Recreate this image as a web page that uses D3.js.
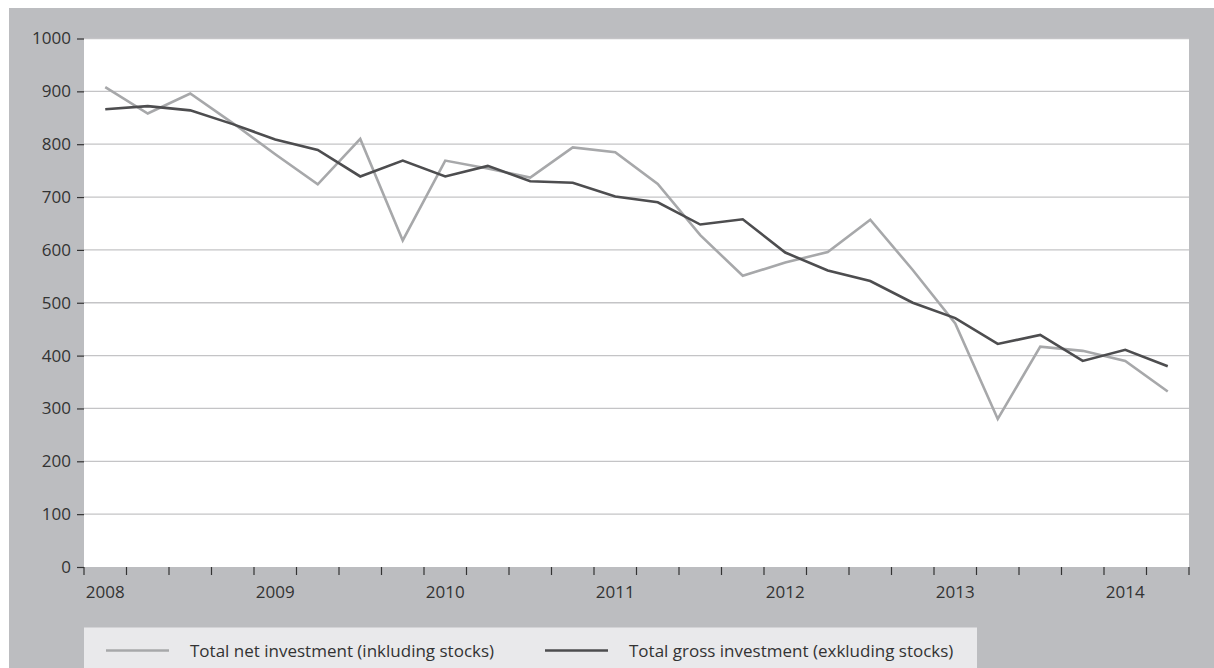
<!DOCTYPE html>
<html><head><meta charset="utf-8">
<script src="https://cdn.jsdelivr.net/npm/d3@7"></script>
<style>
html,body{margin:0;padding:0;background:#fff;}
svg{display:block;font-family:"Open Sans",sans-serif;}
</style></head>
<body>
<svg id="chart" width="1214" height="668"></svg>
<script>
const quarters = ["2008Q1","2008Q2","2008Q3","2008Q4","2009Q1","2009Q2","2009Q3","2009Q4","2010Q1","2010Q2","2010Q3","2010Q4","2011Q1","2011Q2","2011Q3","2011Q4","2012Q1","2012Q2","2012Q3","2012Q4","2013Q1","2013Q2","2013Q3","2013Q4","2014Q1","2014Q2"];
const netInvestment = [908,858,896,840,781,724,810,618,769,754,737,794,785,725,628,551,576,596,657,562,461,280,417,409,390,332];
const grossInvestment = [866,872,864,838,809,789,739,769,739,759,730,727,701,690,648,658,595,561,541,500,471,422,439,390,411,380];
const yTicks = [0,100,200,300,400,500,600,700,800,900,1000];
const seriesNames = ["Total net investment (inkluding stocks)","Total gross investment (exkluding stocks)"];
const seriesColors = ["#a7a8aa","#4d4d4f"];

const svg = d3.select("#chart");
const L = 84, R = 1189, T = 38.5, B = 567;

svg.append("rect").attr("x",9).attr("y",8).attr("width",1205).attr("height",660).attr("fill","#bcbdc0");
svg.append("rect").attr("x",L).attr("y",T).attr("width",R-L).attr("height",B-T).attr("fill","#ffffff");

const x = d3.scaleBand().domain(quarters).range([L,R]).padding(0);
const y = d3.scaleLinear().domain([0,1000]).range([B,T]);

// gridlines
svg.append("g").selectAll("line").data(yTicks.filter(d=>d>0)).join("line")
  .attr("x1",L).attr("x2",R).attr("y1",d=>y(d)).attr("y2",d=>y(d))
  .attr("stroke","#c4c4c6").attr("stroke-width",1.3);

// y axis
const yAxis = d3.axisLeft(y).tickValues(yTicks).tickSize(7).tickPadding(6).tickFormat(d3.format("d"));
const gy = svg.append("g").attr("transform",`translate(${L},0)`).call(yAxis);
gy.select(".domain").remove();
gy.selectAll(".tick line").attr("stroke","#333").attr("stroke-width",1.2);
gy.selectAll("text").attr("fill","#333").style("font-size","17px").attr("font-family","'Open Sans',sans-serif");

// x axis: ticks at band boundaries
const boundaries = quarters.map(q=>x(q)).concat([R]);
svg.append("g").selectAll("line").data(boundaries).join("line")
  .attr("x1",d=>d).attr("x2",d=>d).attr("y1",B).attr("y2",B+8)
  .attr("stroke","#333").attr("stroke-width",1.2);
svg.append("g").selectAll("text").data(quarters.filter(q=>q.endsWith("Q1"))).join("text")
  .attr("x",d=>x(d)+x.bandwidth()/2).attr("y",B+31)
  .attr("text-anchor","middle").attr("fill","#333").style("font-size","17px")
  .text(d=>d.slice(0,4));

// lines
const line = d3.line().x((d,i)=>x(quarters[i])+x.bandwidth()/2).y(d=>y(d));
[netInvestment,grossInvestment].forEach((s,k)=>{
  svg.append("path").datum(s).attr("d",line).attr("fill","none")
    .attr("stroke",seriesColors[k]).attr("stroke-width",2.6).attr("stroke-linejoin","miter");
});

// legend
svg.append("rect").attr("x",84).attr("y",627.5).attr("width",893).attr("height",41).attr("fill","#e9e9eb");
const legX = [[106,169,190],[545,608,629]];
seriesNames.forEach((n,k)=>{
  svg.append("line").attr("x1",legX[k][0]).attr("x2",legX[k][1]).attr("y1",650.5).attr("y2",650.5)
    .attr("stroke",seriesColors[k]).attr("stroke-width",2.6);
  svg.append("text").attr("x",legX[k][2]).attr("y",657).attr("fill","#333").style("font-size","17px").text(n);
});
</script>
</body></html>
